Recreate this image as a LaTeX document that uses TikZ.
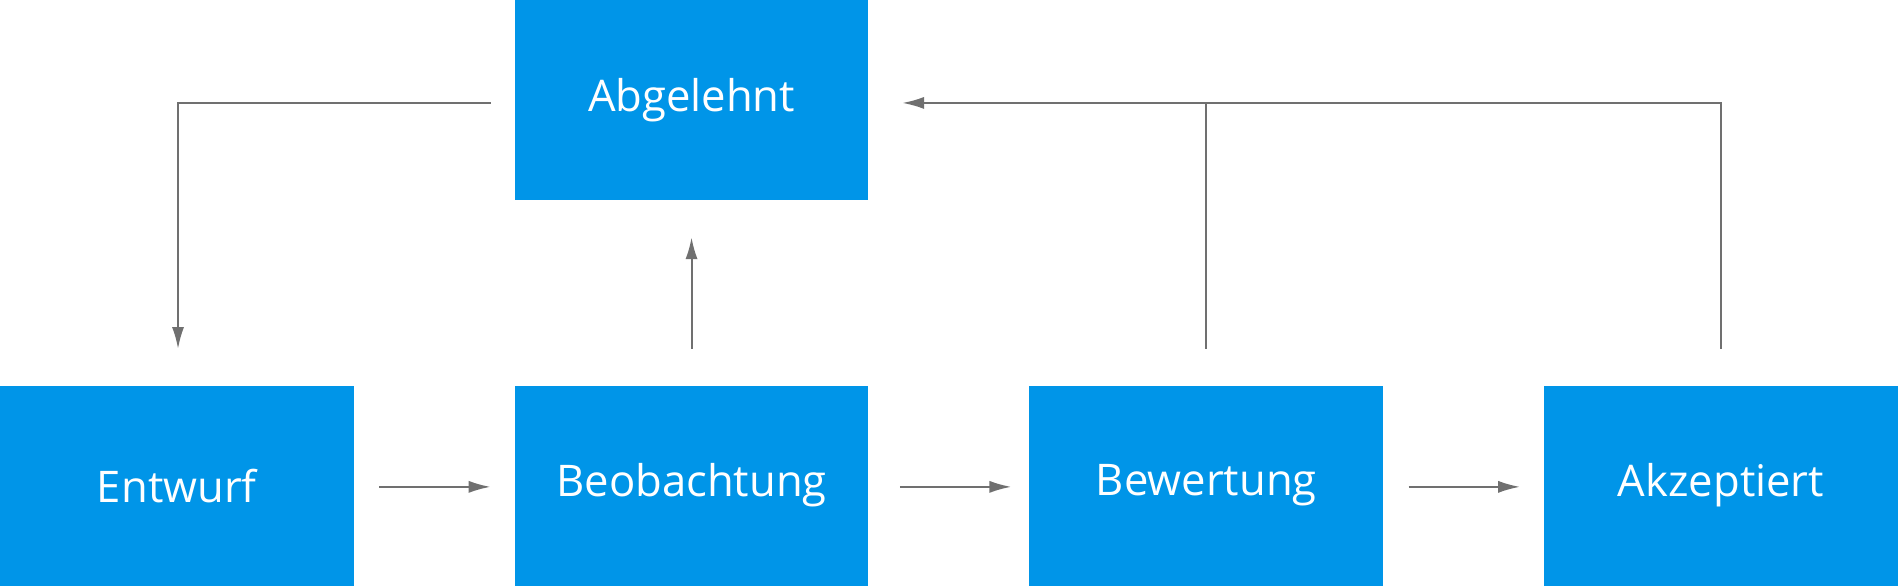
\documentclass[tikz,border=0pt]{standalone}
\usepackage{fontspec}
\setmainfont{Open Sans}
\usetikzlibrary{arrows.meta}
\definecolor{boxblue}{HTML}{0095E8}
\definecolor{linegray}{HTML}{707070}
\begin{document}
\begin{tikzpicture}[x=1pt,y=-1pt,
  box/.style={fill=boxblue,draw=none,minimum width=292pt,minimum height=165pt,inner sep=0pt,text=white,font=\fontsize{36}{40}\selectfont},
  conn/.style={draw=linegray,line width=1.6pt,-{Latex[length=18pt,width=10pt]}},
  plain/.style={draw=linegray,line width=1.6pt}]
\useasboundingbox (0,0) rectangle (1568,485);
\node[box] (abg) at (571,82.5) {Abgelehnt};
\node[box] (ent) at (146,401) {Entwurf};
\node[box] (beo) at (571,401) {Beobachtung};
\node[box] (bew) at (996,401) {Bewertung};
\node[box] (akz) at (1421,401) {Akzeptiert};
\coordinate (e1) at (313,402); \coordinate (e2) at (405,402);
\coordinate (b1) at (743,402); \coordinate (b2) at (835,402);
\coordinate (w1) at (1163,402); \coordinate (w2) at (1255,402);
\coordinate (u1) at (571,288); \coordinate (u2) at (571,196);
\coordinate (a1) at (405,85); \coordinate (a2) at (147,85); \coordinate (a3) at (147,288);
\coordinate (v1) at (996,288); \coordinate (v2) at (996,85); \coordinate (v3) at (745,85);
\coordinate (k1) at (1421,288); \coordinate (k2) at (1421,85);
\draw[conn] (e1) -- (e2);
\draw[conn] (b1) -- (b2);
\draw[conn] (w1) -- (w2);
\draw[conn] (u1) -- (u2);
\draw[conn] (a1) -- (a2) -- (a3);
\draw[conn] (v1) -- (v2) -- (v3);
\draw[plain] (k1) -- (k2) -- (v2);
\end{tikzpicture}
\end{document}
